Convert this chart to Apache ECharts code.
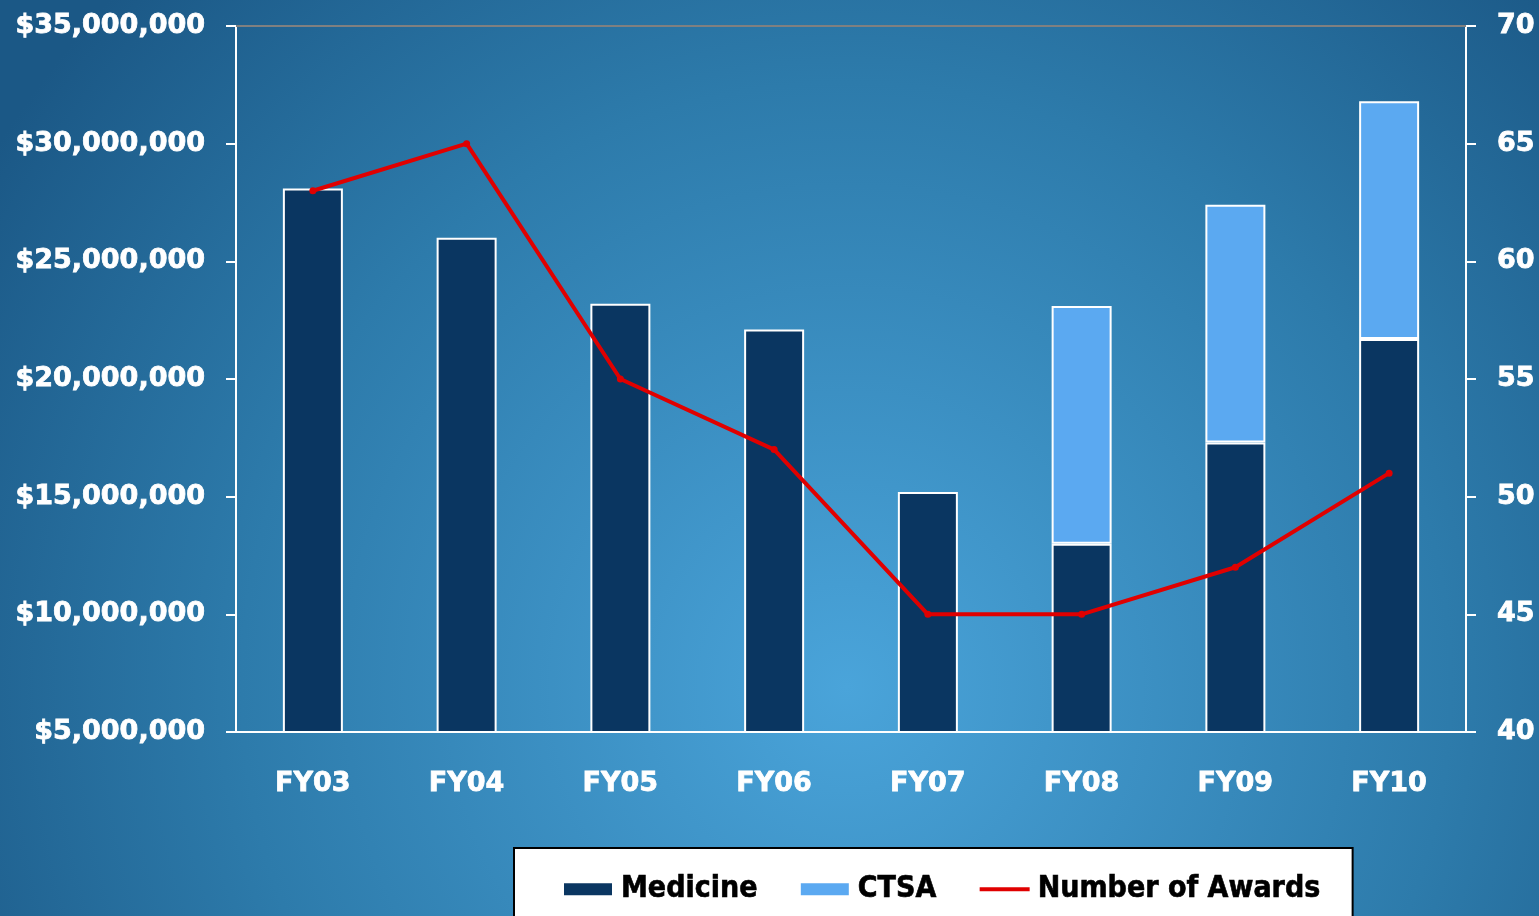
<!DOCTYPE html>
<html>
<head>
<meta charset="utf-8">
<script src="https://cdn.jsdelivr.net/npm/echarts@6/dist/echarts.min.js"></script>
<style>
  html, body { margin: 0; padding: 0; }
  #chart { width: 1539px; height: 916px; }
</style>
</head>
<body>
<div id="chart"></div>
<script>
const years = ['FY03', 'FY04', 'FY05', 'FY06', 'FY07', 'FY08', 'FY09', 'FY10'];
const medicine = [28100000, 26000000, 23200000, 22100000, 15200000, 13000000, 17300000, 21700000];
const ctsa = [0, 0, 0, 0, 0, 10100000, 10100000, 10100000];
const awards = [63, 65, 55, 52, 45, 45, 47, 51];

const chart = echarts.init(document.getElementById('chart'));

const white = '#ffffff';
// heavier white labels, close to the Verdana bold look
const labelFont = {
  color: white, fontFamily: 'DejaVu Sans', fontWeight: 'bold', fontSize: 27,
  textBorderColor: white, textBorderWidth: 0.8
};

const money = v => '$' + v.toLocaleString('en-US');

chart.setOption({
  backgroundColor: {
    type: 'radial', x: 0.55, y: 0.75, r: 1.1,
    colorStops: [
      { offset: 0, color: '#4aa4da' },
      { offset: 0.6, color: '#2d7bab' },
      { offset: 1, color: '#1b5886' }
    ]
  },
  animation: false,
  grid: { left: 236, right: 73, top: 26, bottom: 184 },
  legend: {
    left: 514,
    top: 848,
    backgroundColor: '#ffffff',
    borderColor: '#000000',
    borderWidth: 2,
    padding: [26, 32, 40, 48],
    itemGap: 41,
    itemWidth: 50,
    itemHeight: 14,
    textStyle: {
      color: '#000000', fontFamily: 'DejaVu Sans Condensed', fontWeight: 'bold', fontSize: 30,
      textBorderColor: '#000000', textBorderWidth: 0.6,
      padding: [0, 0, 0, 3]
    },
    data: [
      { name: 'Medicine', icon: 'rect' },
      { name: 'CTSA', icon: 'rect' },
      { name: 'Number of Awards', itemStyle: { opacity: 0 }, lineStyle: { width: 4 } }
    ]
  },
  xAxis: {
    type: 'category',
    data: years,
    axisLine: { lineStyle: { color: white, width: 2 } },
    axisTick: { lineStyle: { color: white, width: 2 }, length: 8 },
    axisLabel: Object.assign({ margin: 38 }, labelFont)
  },
  yAxis: [
    {
      type: 'value',
      min: 5000000, max: 35000000, interval: 5000000,
      axisLine: { show: true, lineStyle: { color: white, width: 2 } },
      axisTick: { show: true, length: 10, lineStyle: { color: white, width: 2 } },
      splitLine: { show: false },
      axisLabel: Object.assign({ margin: 31, formatter: money }, labelFont)
    },
    {
      type: 'value',
      min: 40, max: 70, interval: 5,
      axisLine: { show: true, lineStyle: { color: white, width: 2 } },
      axisTick: { show: true, length: 10, lineStyle: { color: white, width: 2 } },
      splitLine: { show: false },
      axisLabel: Object.assign({ margin: 31 }, labelFont)
    }
  ],
  series: [
    {
      name: 'Medicine',
      type: 'bar',
      stack: 'total',
      barWidth: 60,
      data: medicine,
      itemStyle: { color: '#0a3661', borderColor: white, borderWidth: 2 }
    },
    {
      name: 'CTSA',
      type: 'bar',
      stack: 'total',
      barWidth: 60,
      data: ctsa.map(v => (v === 0 ? '-' : v)),
      itemStyle: { color: '#5ba9f1', borderColor: white, borderWidth: 2 }
    },
    {
      name: 'Number of Awards',
      type: 'line',
      yAxisIndex: 1,
      data: awards,
      symbol: 'circle',
      symbolSize: 7,
      lineStyle: { color: '#e00000', width: 4 },
      itemStyle: { color: '#e00000' },
      z: 5,
      markLine: {
        silent: true,
        symbol: 'none',
        label: { show: false },
        lineStyle: { color: '#808080', width: 2, type: 'solid' },
        data: [{ yAxis: 70 }]
      }
    }
  ]
});
</script>
</body>
</html>
